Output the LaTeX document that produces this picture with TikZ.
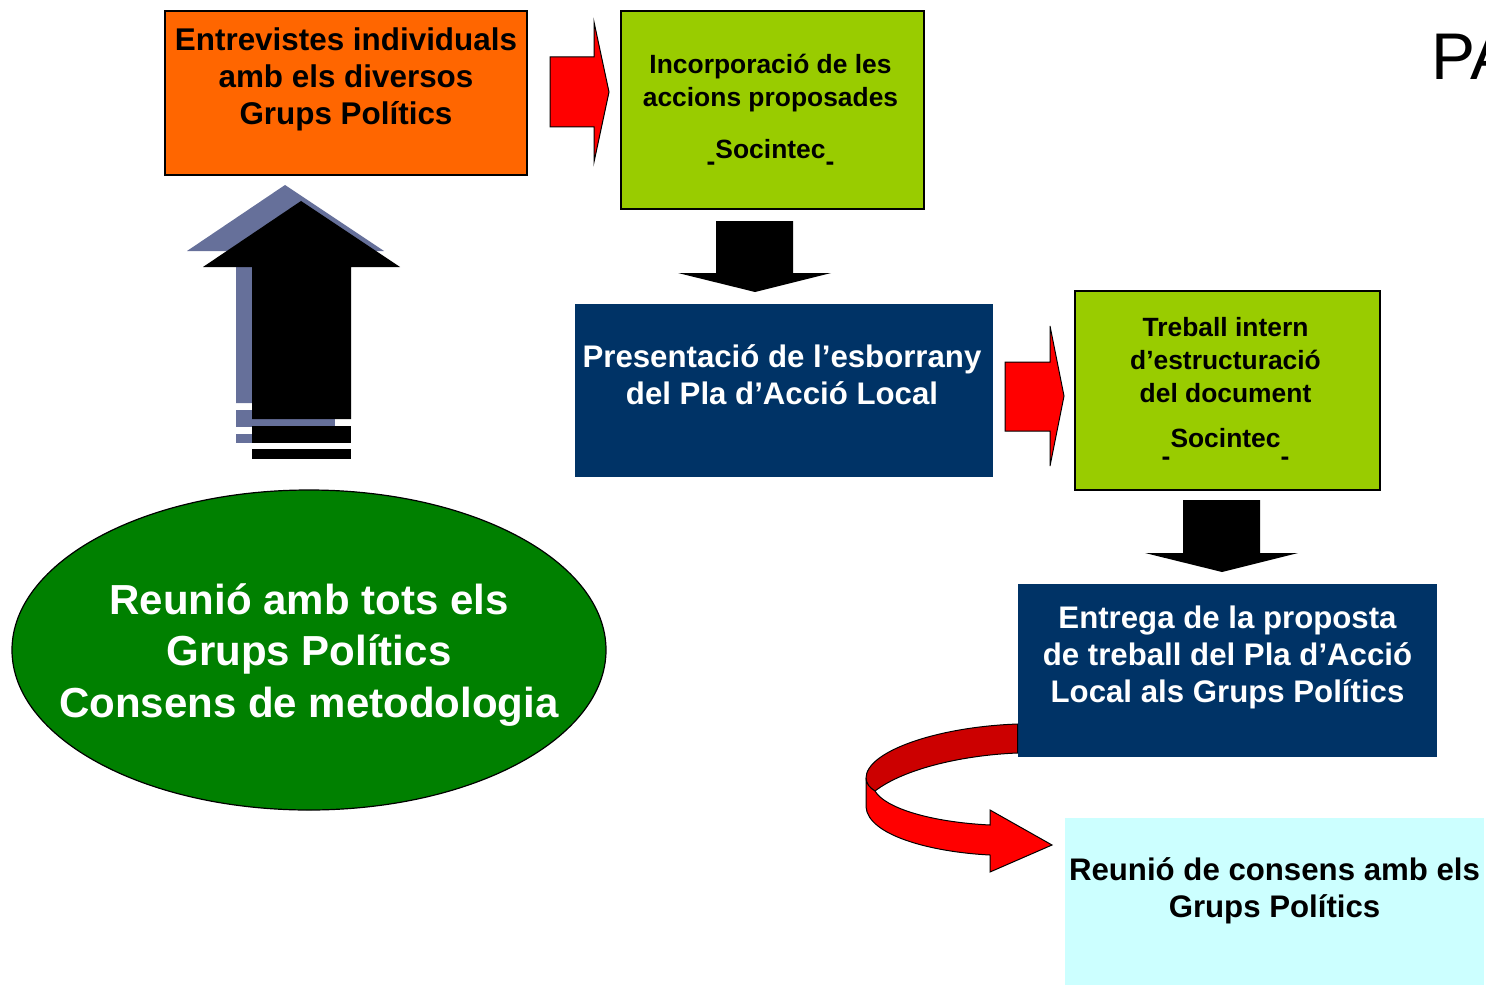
\documentclass[tikz,border=0pt]{standalone}
\usepackage{fontspec}
\setmainfont{Liberation Sans}
\usetikzlibrary{shapes.geometric}

\definecolor{taronja}{HTML}{FF6600}
\definecolor{llima}{HTML}{99CC00}
\definecolor{blaumari}{HTML}{003366}
\definecolor{verdfosc}{HTML}{008000}
\definecolor{cel}{HTML}{CCFFFF}
\definecolor{ombra}{HTML}{66709A}
\definecolor{vermell}{HTML}{FF0000}
\definecolor{vermellfosc}{HTML}{CC0000}

\begin{document}
\begin{tikzpicture}[x=0.5pt, y=-0.5pt,
		caixa/.style={draw, line width=0.6pt, rectangle, inner sep=0pt},
		caixafosca/.style={rectangle, fill=blaumari, inner sep=0pt},
		textnegre/.style={align=center, inner sep=0pt, font=\bfseries\fontsize{13.2}{16.5}\selectfont},
		textblanc/.style={align=center, inner sep=0pt, text=white, font=\bfseries\fontsize{15.6}{18.7}\selectfont},
		fletxa/.style={fill=vermell, draw, line width=0.5pt},
		fletxanegra/.style={fill=black}]
	\useasboundingbox (0,0) rectangle (1486,984);
	\clip (0,0) rectangle (1486,984);
	
	% Fletxa gran amb ombra
	\fill [ombra] (285,185) -- (384,251) -- (335,251) -- (335,403) -- (236,403) -- (236,251) -- (187,251) -- cycle;
	\fill [ombra] (236,410) rectangle (335,427);
	\fill [ombra] (236,434) rectangle (335,443);
	\fill [fletxanegra] (301,201) -- (400,267) -- (351,267) -- (351,419) -- (252,419) -- (252,267) -- (203,267) -- cycle;
	\fill [fletxanegra] (252,426) rectangle (351,443);
	\fill [fletxanegra] (252,449) rectangle (351,459);
	
	% Caixes
	\node [caixa, fill=taronja, minimum width=181pt, minimum height=82pt] (entrevistes) at (346,93) {};
	\node [caixa, fill=llima, minimum width=151.5pt, minimum height=99pt] (incorporacio) at (772.5,110) {};
	\node [caixafosca, minimum width=209pt, minimum height=86.5pt] (presentacio) at (784,390.5) {};
	\node [caixa, fill=llima, minimum width=152.5pt, minimum height=99.5pt] (treball) at (1227.5,390.5) {};
	\node [caixafosca, minimum width=209.5pt, minimum height=86.5pt] (entrega) at (1227.5,670.5) {};
	\node [rectangle, fill=cel, inner sep=0pt, minimum width=209.5pt, minimum height=85pt] (consens) at (1274.5,903) {};
	\node [ellipse, draw, line width=0.6pt, fill=verdfosc, inner sep=0pt, minimum width=297pt, minimum height=160pt] (reunio) at (309,650) {};
	
	% Textos
	\node [textnegre, font=\bfseries\fontsize{15.7}{18.5}\selectfont, yshift=7pt] (entrevistestxt) at (entrevistes.center)
		{Entrevistes individuals\\ amb els diversos\\ Grups Polítics};
	\node [textnegre, xshift=-1pt, yshift=2pt] (incorporaciotxt) at (incorporacio.center)
		{Incorporació de les\\ accions proposades\\[9.5pt] \raisebox{-6pt}[0pt][0pt]{-}Socintec\raisebox{-6pt}[0pt][0pt]{-}};
	\node [textblanc, xshift=-1pt, yshift=8pt] (presentaciotxt) at (presentacio.center)
		{Presentació de l’esborrany\\ del Pla d’Acció Local};
	\node [textnegre, xshift=-1pt, yshift=4pt] (treballtxt) at (treball.center)
		{Treball intern\\ d’estructuració\\ del document\\[5.75pt] \raisebox{-9pt}[0pt][0pt]{-}Socintec\raisebox{-9pt}[0pt][0pt]{-}};
	\node [textblanc, yshift=6.5pt] (entregatxt) at (entrega.center)
		{Entrega de la proposta\\ de treball del Pla d’Acció\\ Local als Grups Polítics};
	\node [textblanc, text=black, yshift=6pt] (consenstxt) at (consens.center)
		{Reunió de consens amb els\\ Grups Polítics};
	\node [textblanc, font=\bfseries\fontsize{21}{25.75}\selectfont, yshift=-2.5pt] (reuniotxt) at (reunio.center)
		{Reunió amb tots els\\ Grups Polítics\\ Consens de metodologia};
	\node [anchor=base west, inner sep=0pt, font=\fontsize{33}{40}\selectfont] (pa) at (1431,80) {PA};
	
	% Fletxes vermelles
	\filldraw [fletxa] (550,57) -- (594,57) -- (594,22) -- (609,92) -- (594,162) -- (594,127) -- (550,127) -- cycle;
	\filldraw [fletxa] (1005,362) -- (1050,362) -- (1050,326) -- (1064,396) -- (1050,466) -- (1050,431) -- (1005,431) -- cycle;
	
	% Fletxes negres
	\fill [fletxanegra] (716,221) -- (793,221) -- (793,273) -- (831,273) -- (755,292) -- (678,273) -- (716,273) -- cycle;
	\fill [fletxanegra] (1183,500) -- (1260,500) -- (1260,553) -- (1298,553) -- (1222,572) -- (1145,553) -- (1183,553) -- cycle;
	
	% Fletxa corba cap a la reunio de consens
	\filldraw [fletxa, fill=vermellfosc] (entrega.west |- 0,724) .. controls (935,727) and (866,752) .. (866,778)
		.. controls (866,784) and (870,788) .. (875,791) .. controls (905,768) and (965,755) .. (entrega.west |- 0,753) -- cycle;
	\filldraw [fletxa] (866,778) -- (866,807) .. controls (868,835) and (930,852) .. (990,855) -- (990,872)
		-- (1052,845) -- (990,810) -- (990,825) .. controls (930,822) and (885,808) .. (875,791)
		.. controls (870,788) and (866,784) .. (866,778) -- cycle;
	
\end{tikzpicture}
\end{document}
